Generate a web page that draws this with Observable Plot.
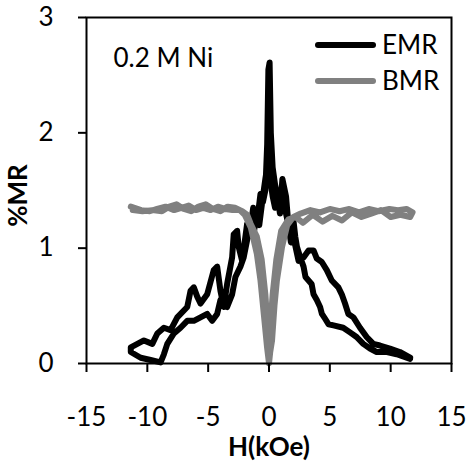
<!DOCTYPE html>
<html><head><meta charset="utf-8">
<script src="https://cdn.jsdelivr.net/npm/d3@7"></script>
<script src="https://cdn.jsdelivr.net/npm/@observablehq/plot@0.6"></script>
<style>body{margin:0;background:#fff} svg{display:block}</style>
</head><body><div id="chart"></div>
<script>
// EMR loop: field H (kOe) and %MR
const emrH = [11.6,10.5,9.7,8.85,8.3,7.75,7.2,6.66,6.1,5.3,4.9,4.6,4.35,4.2,3.93,3.66,3.5,3.25,3.0,2.84,2.57,2.3,2.16,
  2.0,1.8,1.6,1.4,1.1,0.9,0.7,0.5,0.3,0.15,0.05,-0.05,-0.15,-0.3,-0.5,-0.7,-0.9,-1.1,-1.3,-1.5,-1.8,-1.94,-2.21,-2.49,-2.62,-2.9,-3.03,-3.44,-3.72,-3.99,-4.26,-4.54,-5.08,-5.63,-5.9,-6.18,-6.45,-6.72,-7.54,-8.09,-8.64,-9.18,-9.59,-10.28,-11.36,
  -11.36,-10.55,-9.73,-8.91,-8.64,-8.36,-7.82,-7.27,-6.72,-6.18,-5.63,-5.08,-4.67,-4.26,-3.99,-3.44,-3.03,-2.76,-2.35,-2.08,-1.8,-1.6,-1.3,-1.0,-0.8,-0.5,-0.3,-0.15,0,0.1,0.3,0.5,0.8,1.0,1.2,1.5,1.8,2.0,
  2.43,2.84,3.25,3.66,3.93,4.34,4.75,5.16,5.7,5.98,6.25,6.52,6.94,7.48,8.03,8.57,9.12,9.94,10.75,11.6];
const emrMR = [0.04,0.08,0.10,0.10,0.13,0.17,0.23,0.27,0.31,0.33,0.34,0.39,0.43,0.49,0.55,0.60,0.69,0.72,0.75,0.84,0.92,1.01,1.10,
  1.25,1.05,1.2,1.45,1.6,1.3,1.45,1.55,1.7,2.0,2.61,2.55,1.9,1.5,1.4,1.47,1.3,1.25,1.35,1.2,1.21,1.10,0.89,1.01,1.15,1.12,0.92,0.69,0.49,0.63,0.84,0.81,0.60,0.52,0.58,0.66,0.63,0.49,0.40,0.29,0.31,0.26,0.17,0.20,0.14,
  0.10,0.05,0.03,0.01,0.08,0.17,0.26,0.31,0.37,0.37,0.40,0.43,0.37,0.43,0.55,0.49,0.60,0.75,0.84,0.92,1.07,1.15,1.1,1.3,1.2,1.45,1.6,1.7,2.0,1.6,1.45,1.35,1.5,1.35,1.4,1.25,1.15,1.1,
  0.89,0.92,0.98,0.98,0.91,0.88,0.81,0.72,0.66,0.60,0.52,0.43,0.40,0.31,0.23,0.17,0.156,0.13,0.10,0.05];
// BMR loop
const bmrH = [-11.36,-10.5,-9.8,-9.2,-8.5,-7.8,-7.2,-6.6,-6.0,-5.4,-4.8,-4.2,-3.6,-3.0,-2.4,-2.0,-1.5,-1.0,-0.7,-0.4,-0.16,0,0.1,0.25,0.45,0.65,1.07,1.5,2.0,2.6,3.4,4.2,5.0,5.8,6.6,7.4,8.2,9.0,9.9,10.6,11.3,11.8,
  11.6,10.8,10.0,9.2,8.4,7.6,6.8,6.0,5.2,4.4,3.6,2.8,2.2,1.6,1.0,0.6,0.3,0.1,0,-0.1,-0.3,-0.6,-1.0,-1.5,-1.8,-2.2,-2.8,-3.4,-4.0,-4.6,-5.2,-5.8,-6.4,-7.0,-7.6,-8.2,-8.8,-9.6,-10.4,-11.2];
const bmrMR = [1.36,1.33,1.32,1.34,1.36,1.33,1.35,1.37,1.33,1.35,1.33,1.36,1.34,1.33,1.33,1.29,1.18,0.95,0.72,0.4,0.14,0.0,0.1,0.2,0.5,0.72,1.01,1.2,1.27,1.30,1.33,1.31,1.34,1.32,1.34,1.31,1.34,1.32,1.34,1.33,1.34,1.31,
  1.27,1.29,1.27,1.33,1.30,1.27,1.31,1.24,1.28,1.23,1.29,1.22,1.27,1.25,1.15,0.9,0.6,0.3,0.2,0.3,0.6,0.9,1.1,1.21,1.29,1.32,1.35,1.36,1.32,1.34,1.38,1.36,1.32,1.34,1.38,1.36,1.32,1.33,1.32,1.33];

const xTicks = [-15,-10,-5,0,5,10,15];
const yTicks = [0,1,2,3];
const seriesNames = ["EMR","BMR"];
const seriesColors = ["#000000","#808080"];
const xLabel = "H(kOe)";
const yLabel = "%MR";
const annotation = "0.2 M Ni";

const emr = emrH.map((h,i)=>({h, mr: emrMR[i]}));
const bmr = bmrH.map((h,i)=>({h, mr: bmrMR[i]}));

const font = "Lato, 'Open Sans', sans-serif";
const chart = Plot.plot({
  width: 470, height: 472,
  marginLeft: 86, marginRight: 19, marginTop: 17, marginBottom: 109,
  style: {fontFamily: font, fontSize: "26px", background: "white", color: "black", overflow: "visible"},
  x: {domain: [-15, 15]},
  y: {domain: [0, 3]},
  marks: [
    Plot.line(emr, {x: "h", y: "mr", stroke: seriesColors[0], strokeWidth: 6, strokeLinejoin: "round", strokeLinecap: "round"}),
    Plot.line(bmr, {x: "h", y: "mr", stroke: seriesColors[1], strokeWidth: 6, strokeLinejoin: "round", strokeLinecap: "round"}),
    Plot.frame({stroke: "black", strokeWidth: 2}),
    Plot.axisX({ticks: xTicks, tickSize: 9, tickPadding: 35, label: null, strokeWidth: 2, fontSize: 26, tickFormat: d => String(d)}),
    Plot.axisY({ticks: yTicks, tickSize: 8, tickPadding: 25, label: null, strokeWidth: 2, fontSize: 26, tickFormat: d => String(d)}),
    Plot.text([xLabel], {frameAnchor: "bottom", textAnchor: "middle", lineAnchor: "top", dy: 74, fontWeight: "bold", fontSize: 26}),
    Plot.text([yLabel], {frameAnchor: "left", textAnchor: "middle", rotate: -90, dx: -68, dy: 5, fontWeight: "bold", fontSize: 26}),
    Plot.text([annotation], {frameAnchor: "top-left", textAnchor: "start", lineAnchor: "top", dx: 27, dy: 31, fontSize: 26})
  ]
});
document.getElementById("chart").appendChild(chart);

// legend inside plot area (top-right)
const svg = d3.select(chart);
const lg = svg.append("g").attr("text-anchor", "start");
seriesNames.forEach((name, i) => {
  const y = 45 + i * 36;
  lg.append("line").attr("x1", 318).attr("x2", 373).attr("y1", y).attr("y2", y)
    .attr("stroke", seriesColors[i]).attr("stroke-width", 6).attr("stroke-linecap", "round");
  lg.append("text").attr("x", 382).attr("y", y).attr("dy", "0.36em").attr("text-anchor", "start")
    .attr("font-family", font).attr("font-size", 26).attr("fill", "black").text(name);
});
</script>
</body></html>
